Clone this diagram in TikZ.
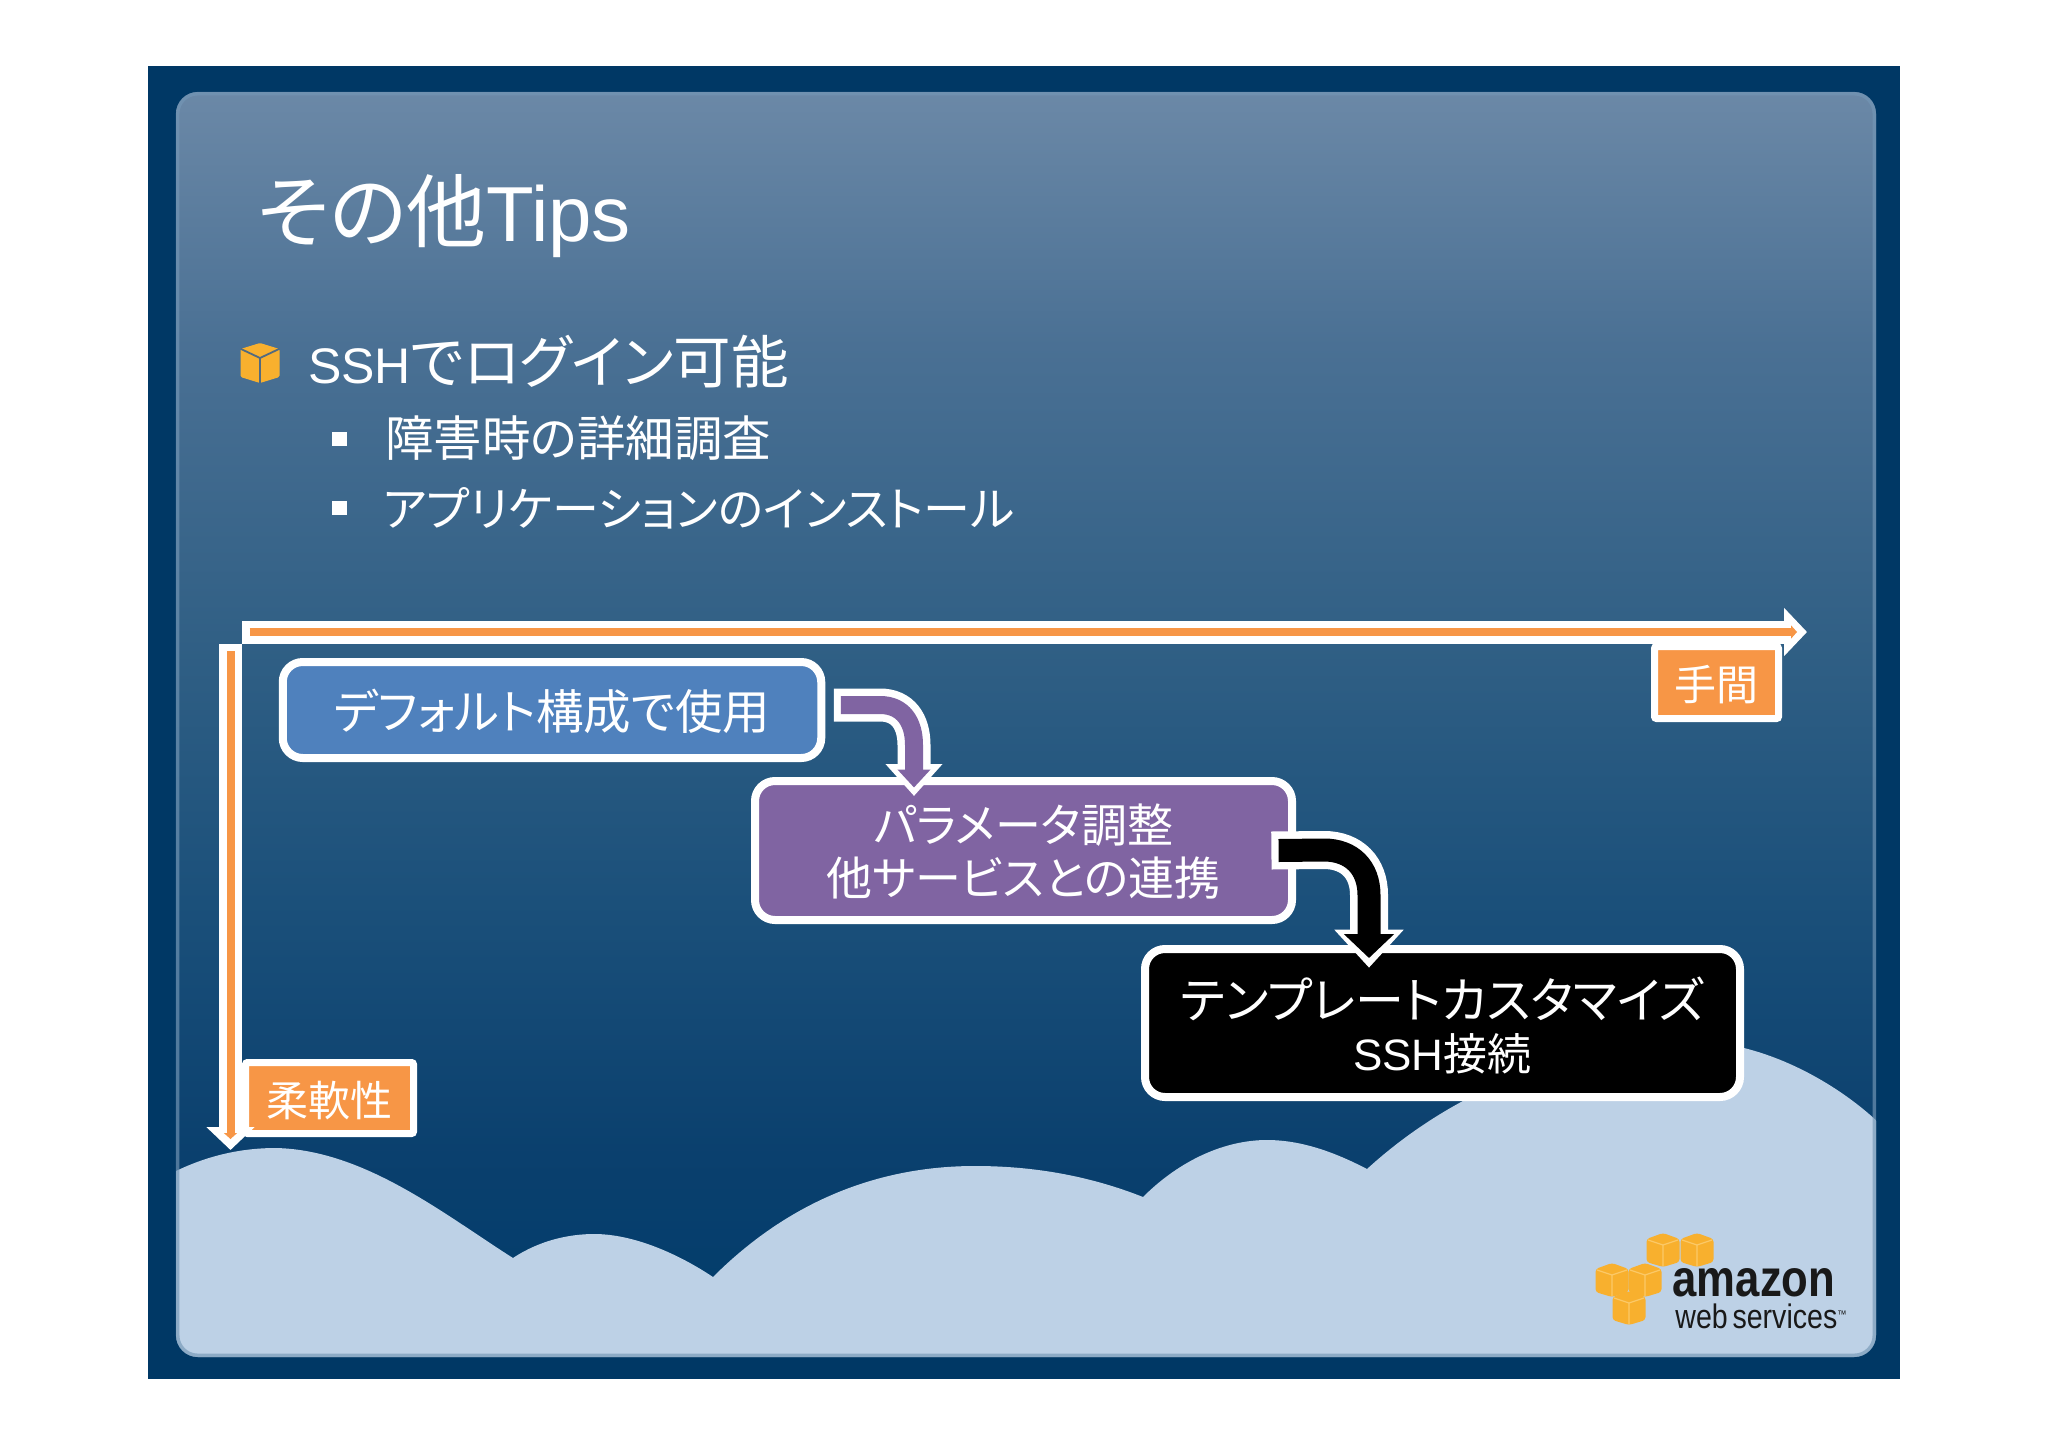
\documentclass[tikz,border=0pt]{standalone}
\usepackage{fontspec}
\setmainfont[RawFeature=+palt]{Noto Sans CJK JP}
\newfontfamily\lat{Liberation Sans}
\usetikzlibrary{arrows.meta}
\definecolor{bgdark}{HTML}{003865}
\definecolor{cloudblue}{HTML}{BDD1E6}
\definecolor{rimblue}{HTML}{7497B6}
\definecolor{axisorange}{HTML}{F79646}
\definecolor{boxblue}{HTML}{4F81BD}
\definecolor{boxpurple}{HTML}{8064A2}
\definecolor{cubeorange}{HTML}{F8B02E}
\definecolor{cubeline}{HTML}{FCC968}
\pgfdeclareverticalshading{panelshade}{100bp}{
 rgb(0bp)=(0,0.235,0.42);
 rgb(25bp)=(0,0.235,0.42);
 rgb(33bp)=(0.04,0.25,0.43);
 rgb(43bp)=(0.106,0.314,0.48);
 rgb(53bp)=(0.188,0.373,0.52);
 rgb(65bp)=(0.29,0.44,0.58);
 rgb(75bp)=(0.42,0.535,0.655);
 rgb(100bp)=(0.42,0.535,0.655)}
\newcommand\awscube[2]{%
 \begin{scope}[shift={(#1,#2)}]
  \fill[cubeorange,rounded corners=3pt] (0,-17)--(16.5,-11)--(16.5,12)--(0,17)--(-16.5,12)--(-16.5,-11)--cycle;
  \draw[cubeline,line width=1.2pt] (-15,-10)--(0,-5)--(15,-10) (0,-5)--(0,16);
 \end{scope}}
\tikzset{
 flowbox/.style={draw=white,line width=8pt,rounded corners=20pt,outer sep=0pt,inner sep=0pt,text=white,align=center},
 taglabel/.style={draw=white,fill=axisorange,line width=7pt,rounded corners=2pt,outer sep=0pt,inner sep=0pt,text=white,font=\fontsize{42}{50}\selectfont},
 plain/.style={inner sep=0pt,outer sep=0pt,text=white,anchor=west},
 axiswhite/.style={white,line width=23pt,-{Triangle[length=23pt,width=47pt]}},
 axisinner/.style={axisorange,line width=8pt,-{Triangle[length=6pt,width=13pt]}}
}
\begin{document}
\begin{tikzpicture}[x=1pt,y=-1pt]
\useasboundingbox (0,0) rectangle (2048,1448);
\fill[white] (0,0) rectangle (2048,1448);
\fill[bgdark] (148,66) rectangle (1900,1379);
\shade[shading=panelshade,rounded corners=22pt] (176,92) rectangle (1876,1357);
% clouds
\begin{scope}
 \clip[rounded corners=22pt] (176,92) rectangle (1876,1357);
 \fill[cloudblue] (170,1174) .. controls (205,1156) and (240,1148) .. (276,1148)
  .. controls (365,1150) and (445,1215) .. (513,1258)
  .. controls (540,1240) and (570,1234) .. (594,1234)
  .. controls (635,1234) and (680,1255) .. (713,1277)
  .. controls (790,1200) and (880,1166) .. (975,1166)
  .. controls (1040,1166) and (1095,1178) .. (1143,1197)
  .. controls (1180,1160) and (1225,1140) .. (1267,1140)
  .. controls (1305,1140) and (1340,1155) .. (1367,1169)
  .. controls (1470,1075) and (1610,1030) .. (1744,1048)
  .. controls (1800,1062) and (1850,1095) .. (1880,1124)
  -- (1880,1360) -- (170,1360) -- cycle;
\end{scope}
\draw[rimblue,opacity=.65,line width=3.5pt,rounded corners=20pt] (177.7,93.7) rectangle (1874.3,1355.3);
% title and bullets
\node[plain,font=\fontsize{80}{84}\selectfont] (title) at (257,216) {その他{\lat\fontsize{78}{84}\selectfont Tips}};
\fill[cubeorange,rounded corners=1.5pt] (260,343)--(279.5,349)--(279.5,377)--(260,383)--(240.5,377)--(240.5,349)--cycle;
\draw[rimblue!70!black,line width=1.8pt] (241,349)--(260,358)--(279,349) (260,358)--(260,383);
\node[plain,font=\fontsize{57.5}{60}\selectfont] (b1) at (308,362) {{\lat\fontsize{50}{56}\selectfont SSH}でログイン可能};
\fill[white] (332,432) rectangle (347,446);
\node[plain,font=\fontsize{48.5}{52}\selectfont] (b2) at (385,438) {障害時の詳細調査};
\fill[white] (332,501) rectangle (347,515);
\node[plain,font=\fontsize{47}{52}\selectfont] (b3) at (383,508) {アプリケーションのインストール};
% boxes
\node[flowbox,fill=boxblue,minimum width=538.5pt,minimum height=96pt,font=\fontsize{47.5}{53}\selectfont] (a) at (552,710) {\rule{0pt}{44pt}デフォルト構成で使用};
\node[flowbox,fill=boxpurple,minimum width=537pt,minimum height=139pt,font=\fontsize{46}{53}\selectfont] (b) at (1023.5,850.5) {\rule{0pt}{41pt}パラメータ調整\\他サービスとの連携};
\node[flowbox,fill=black,minimum width=595pt,minimum height=148pt,font=\fontsize{49}{52}\selectfont] (c) at (1442.5,1023) {\rule{0pt}{46pt}テンプレートカスタマイズ\\{\fontsize{44}{52}\selectfont{\lat SSH}接続}};
% tags
\node[taglabel,minimum width=124pt,minimum height=72pt] (tm) at (1716.5,682.5) {\rule{0pt}{39pt}手間};
\node[taglabel,minimum width=168pt,minimum height=71pt] (ju) at (329.5,1098) {\rule{0pt}{41pt}柔軟性};
% axes
\coordinate (hs) at (242,632);
\coordinate (he) at (1807,632);
\coordinate (vs) at (230.5,643.5);
\coordinate (ve) at (230.5,1150);
\draw[axiswhite] (hs) -- (he);
\draw[axisinner] ([xshift=7.5pt]hs) -- ([xshift=-10pt]he);
\draw[axiswhite] (vs) -- (ve);
\draw[axisinner] ([yshift=-7.5pt]vs) -- ([yshift=11pt]ve);
% bent arrows
\draw[white,line width=33pt,-{Triangle[length=32pt,width=55pt]}]
 ([shift={(12.5,-5)}]a.east) -- (880,705) .. controls (903,705) and (914,722) .. (914,745) -- ([shift={(-109.5,15)}]b.north);
\draw[boxpurple,line width=18pt,-{Triangle[length=18pt,width=32pt]}]
 ([shift={(19.5,-5)}]a.east) -- (880,705) .. controls (903,705) and (914,722) .. (914,745) -- ([shift={(-109.5,6.5)}]b.north);
\draw[white,line width=38pt,-{Triangle[length=38pt,width=67pt]}]
 ([xshift=-20.6pt]b.east) -- (1324,850) .. controls (1352,850) and (1369,868) .. (1369,895) -- ([shift={(-73.5,18.7)}]c.north);
\draw[black,line width=23pt,-{Triangle[length=24pt,width=49pt]}]
 ([xshift=-13.4pt]b.east) -- (1324,850) .. controls (1352,850) and (1369,868) .. (1369,895) -- ([shift={(-73.5,9)}]c.north);
% logo
\awscube{1663}{1250}
\awscube{1697}{1250}
\awscube{1612}{1280}
\awscube{1645}{1280}
\awscube{1629}{1308}
\node[inner sep=0pt,text=black!90] (amz) at (1754,1283) {\scalebox{0.84}[1]{\lat\bfseries\fontsize{52}{56}\selectfont amazon}};
\node[inner sep=0pt,text=black!90] (ws) at (1761,1316) {\scalebox{0.84}[1]{\lat\fontsize{34}{36}\selectfont web\,services\raisebox{10pt}{\fontsize{11}{12}\selectfont ™}}};
\end{tikzpicture}
\end{document}
